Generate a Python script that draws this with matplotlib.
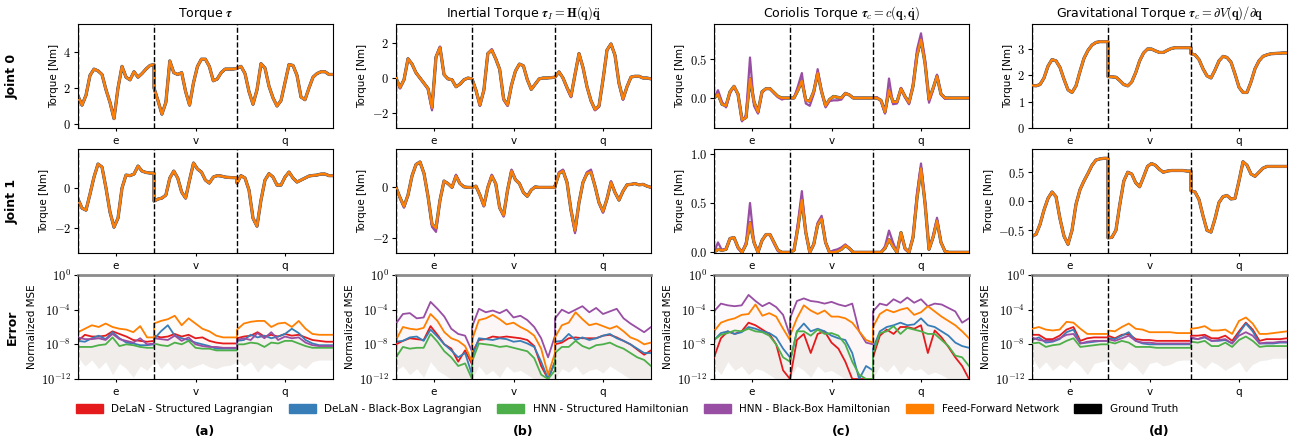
import numpy as np
import matplotlib.pyplot as plt
from matplotlib.patches import Patch
from matplotlib.ticker import NullLocator

plt.rcParams['mathtext.fontset'] = 'cm'
plt.rcParams['font.family'] = ['DejaVu Sans']

segments = ['e', 'v', 'q']
segment_lengths = [76, 83, 96]
torque_counts = [20, 22, 25]
error_counts = [12, 13, 15]

model_names = ['DeLaN - Structured Lagrangian', 'DeLaN - Black-Box Lagrangian',
               'HNN - Structured Hamiltonian', 'HNN - Black-Box Hamiltonian',
               'Feed-Forward Network']
model_colors = ['#e41a1c', '#377eb8', '#4daf4a', '#984ea3', '#ff7f00']

col_titles = [r'Torque $\boldsymbol{\tau}$',
              r'Inertial Torque $\boldsymbol{\tau}_I = \mathbf{H}(\mathbf{q})\ddot{\mathbf{q}}$',
              r'Coriolis Torque $\boldsymbol{\tau}_c = c(\mathbf{q}, \dot{\mathbf{q}})$',
              r'Gravitational Torque $\boldsymbol{\tau}_c = \partial V(\mathbf{q}) / \partial \mathbf{q}$']

# ground truth torques (e | v | q)
torque_j0 = [1.55, 1.05, 1.6, 2.7, 3.05, 2.95, 2.75, 1.9, 1.2, 0.3, 2.0, 3.2, 2.6, 2.45, 2.9, 2.6, 2.8, 3.05, 3.25, 3.3,
             2.0, 1.3, 0.55, 1.2, 3.5, 2.85, 2.75, 2.85, 1.8, 1.05, 2.3, 3.2, 3.6, 3.6, 3.2, 2.4, 2.5, 2.85, 3.05, 3.05, 3.05, 3.08,
             3.1, 3.2, 2.8, 1.8, 1.1, 1.9, 3.35, 3.1, 2.1, 1.45, 1.0, 1.3, 2.3, 3.3, 3.25, 2.7, 1.5, 1.35, 2.0, 2.6, 2.8, 2.9, 2.9, 2.75, 2.75]
torque_j1 = [-0.55, -1.0, -1.1, -0.3, 0.55, 1.2, 1.05, 0.0, -1.2, -1.95, -1.5, 0.0, 0.65, 0.62, 0.7, 1.1, 0.85, 0.78, 0.75, 0.75,
             -0.65, -0.55, -0.5, -0.35, 0.5, 0.85, 0.5, -0.2, -0.5, 0.4, 1.25, 0.95, 0.8, 0.4, 0.25, 0.55, 0.62, 0.6, 0.55, 0.53, 0.52, 0.52,
             0.25, 0.62, 0.5, -0.1, -1.5, -1.9, -0.6, 0.4, 0.72, 0.55, 0.15, 0.15, 0.55, 0.8, 0.5, 0.3, 0.4, 0.5, 0.6, 0.63, 0.65, 0.7, 0.7, 0.62, 0.62]
inertial_j0 = [0.0, -0.55, -0.1, 1.1, 0.8, 0.3, 0.0, -0.3, -0.6, -1.7, 1.2, 1.75, 0.2, -0.05, -0.1, -0.5, -0.35, -0.1, 0.0, -0.05,
               -0.05, -0.7, -1.55, -0.7, 1.4, 1.6, 1.1, 0.5, -1.2, -1.55, -0.4, 0.4, 0.8, 0.7, -0.1, -0.65, -0.35, -0.05, 0.0, 0.0, 0.02, 0.05,
               0.05, 0.35, 0.0, -0.55, -1.05, 0.2, 1.4, 0.6, -0.5, -1.3, -1.8, -1.6, -0.1, 1.6, 1.95, 1.3, -0.3, -1.2, -0.5, 0.05, 0.1, 0.1, 0.0, 0.0, -0.05]
inertial_j1 = [0.0, -0.4, -0.75, -0.3, 0.45, 0.9, 1.0, 0.55, -0.35, -1.45, -1.6, -0.5, 0.25, 0.15, 0.0, 0.45, 0.15, 0.02, 0.0, 0.0,
               0.0, 0.05, -0.3, -0.72, 0.0, 0.45, 0.15, -0.8, -1.1, -0.1, 0.65, 0.3, 0.15, -0.2, -0.35, -0.1, 0.02, 0.0, 0.0, 0.0, 0.0, 0.0,
               0.05, 0.55, 0.65, 0.2, -0.9, -1.7, -0.6, 0.2, 0.55, 0.6, 0.05, -0.6, -0.95, -0.45, 0.2, -0.2, -0.5, -0.15, 0.1, 0.12, 0.15, 0.1, 0.12, 0.05, 0.0]
coriolis_j0 = [0.0, 0.05, -0.08, -0.1, 0.08, 0.15, 0.05, -0.28, -0.25, 0.25, -0.05, -0.18, 0.08, 0.12, 0.12, 0.07, 0.02, 0.0, 0.0, 0.0,
               0.0, 0.0, 0.1, 0.22, -0.03, -0.04, 0.08, 0.32, 0.08, -0.1, -0.02, 0.02, 0.01, 0.0, 0.06, 0.04, 0.0, 0.0, 0.0, 0.0, 0.0, 0.0,
               0.0, 0.0, -0.03, -0.18, 0.1, -0.05, -0.05, 0.12, 0.02, -0.06, 0.15, 0.55, 0.75, 0.45, -0.02, 0.12, 0.28, 0.05, 0.0, 0.0, 0.0, 0.0, 0.0, 0.0, 0.0]
coriolis_j1 = [0.0, 0.03, 0.02, 0.03, 0.14, 0.15, 0.05, 0.0, 0.08, 0.3, 0.1, 0.0, 0.12, 0.18, 0.18, 0.1, 0.02, 0.0, 0.0, 0.0,
               0.0, 0.02, 0.25, 0.53, 0.2, 0.0, 0.08, 0.28, 0.34, 0.1, 0.0, 0.0, 0.01, 0.03, 0.07, 0.04, 0.0, 0.0, 0.0, 0.0, 0.0, 0.0,
               0.0, 0.0, 0.0, 0.04, 0.13, 0.06, 0.0, 0.2, 0.04, 0.0, 0.15, 0.55, 0.85, 0.5, 0.03, 0.15, 0.32, 0.1, 0.01, 0.0, 0.0, 0.0, 0.0, 0.0, 0.0]
grav_j0 = [1.62, 1.6, 1.65, 1.9, 2.35, 2.6, 2.55, 2.3, 1.85, 1.45, 1.35, 1.6, 2.15, 2.65, 2.95, 3.15, 3.25, 3.28, 3.28, 3.28,
           1.95, 1.94, 1.93, 1.8, 1.65, 1.6, 1.75, 2.1, 2.55, 2.85, 3.0, 3.0, 2.93, 2.87, 2.87, 2.95, 3.02, 3.05, 3.05, 3.05, 3.05, 3.05,
           2.82, 2.78, 2.6, 2.25, 1.98, 1.9, 2.2, 2.55, 2.72, 2.68, 2.5, 2.05, 1.55, 1.35, 1.35, 1.75, 2.25, 2.55, 2.72, 2.78, 2.82, 2.83, 2.84, 2.85, 2.85]
grav_j1 = [-0.6, -0.57, -0.4, -0.15, 0.05, 0.16, 0.08, -0.3, -0.6, -0.74, -0.5, -0.05, 0.2, 0.35, 0.48, 0.62, 0.71, 0.73, 0.74, 0.74,
           -0.63, -0.62, -0.5, -0.05, 0.35, 0.5, 0.47, 0.32, 0.25, 0.42, 0.6, 0.65, 0.62, 0.55, 0.5, 0.52, 0.53, 0.53, 0.53, 0.53, 0.52, 0.52,
           0.18, 0.16, 0.03, -0.25, -0.5, -0.53, -0.3, -0.02, 0.08, 0.1, 0.04, 0.05, 0.35, 0.68, 0.62, 0.47, 0.43, 0.5, 0.57, 0.6, 0.6, 0.6, 0.6, 0.6, 0.6]

# HNN black-box predictions where they visibly leave the ground truth
inertial_j0_hnn_bb = [0.0, -0.6, -0.1, 1.1, 0.8, 0.3, 0.0, -0.3, -0.65, -1.85, 1.2, 1.8, 0.2, -0.05, -0.1, -0.5, -0.35, -0.1, 0.0, -0.05,
                      -0.05, -0.75, -1.6, -0.7, 1.4, 1.65, 1.1, 0.5, -1.25, -1.6, -0.4, 0.4, 0.8, 0.7, -0.1, -0.65, -0.35, -0.05, 0.0, 0.0, 0.02, 0.05,
                      0.05, 0.35, 0.0, -0.6, -1.1, 0.2, 1.4, 0.6, -0.5, -1.3, -1.85, -1.65, -0.1, 1.6, 1.95, 1.3, -0.3, -1.25, -0.5, 0.05, 0.1, 0.1, 0.0, 0.0, -0.05]
inertial_j1_hnn_bb = [0.0, -0.4, -0.8, -0.3, 0.45, 0.9, 1.0, 0.55, -0.35, -1.55, -1.75, -0.5, 0.25, 0.15, 0.0, 0.5, 0.15, 0.02, 0.0, 0.0,
                      0.0, 0.05, -0.3, -0.75, 0.0, 0.5, 0.15, -0.8, -1.15, -0.1, 0.7, 0.3, 0.15, -0.2, -0.35, -0.1, 0.02, 0.0, 0.0, 0.0, 0.0, 0.0,
                      0.05, 0.6, 0.7, 0.2, -0.9, -1.8, -0.6, 0.2, 0.6, 0.7, 0.05, -0.6, -1.0, -0.45, 0.25, -0.2, -0.5, -0.15, 0.1, 0.12, 0.15, 0.1, 0.12, 0.05, 0.0]
coriolis_j0_hnn_bb = [0.0, 0.1, -0.05, -0.12, 0.06, 0.15, 0.04, -0.3, -0.22, 0.52, -0.1, -0.2, 0.07, 0.12, 0.12, 0.06, 0.01, -0.02, 0.0, 0.0,
                      0.0, 0.0, 0.15, 0.32, -0.07, -0.1, 0.05, 0.37, 0.08, -0.12, -0.04, -0.03, -0.03, -0.02, 0.06, 0.04, 0.0, 0.0, 0.0, 0.0, 0.0, 0.0,
                      0.0, 0.01, -0.04, -0.2, 0.25, -0.08, -0.07, 0.13, 0.01, -0.08, 0.18, 0.62, 0.83, 0.5, -0.06, 0.1, 0.3, 0.05, -0.01, 0.0, 0.0, 0.0, 0.0, 0.0, 0.0]
coriolis_j1_hnn_bb = [0.0, 0.1, 0.02, 0.04, 0.14, 0.15, 0.04, 0.0, 0.1, 0.5, 0.1, 0.0, 0.12, 0.18, 0.18, 0.09, 0.01, 0.0, 0.0, 0.0,
                      0.0, 0.03, 0.3, 0.62, 0.2, 0.0, 0.08, 0.3, 0.37, 0.1, 0.0, 0.02, 0.03, 0.05, 0.08, 0.04, 0.0, 0.0, 0.0, 0.0, 0.0, 0.0,
                      0.0, 0.0, 0.0, 0.06, 0.22, 0.1, 0.0, 0.19, 0.03, 0.0, 0.16, 0.6, 0.9, 0.52, 0.03, 0.16, 0.35, 0.1, 0.01, 0.0, 0.0, 0.0, 0.0, 0.0, 0.0]

# normalized MSE, log10 (e | v | q); order: DeLaN-S, DeLaN-BB, HNN-S, HNN-BB, FF-NN
err_tau_delan_s = [-7.6, -6.9, -7.1, -7.1, -7.0, -6.5, -6.8, -7.1, -7.5, -7.6, -7.7, -7.6,
                   -7.0, -7.2, -7.1, -6.8, -7.1, -6.9, -7.3, -7.2, -7.6, -7.8, -7.9, -7.9, -7.9,
                   -7.3, -7.1, -7.0, -6.6, -7.1, -6.9, -7.1, -6.8, -7.0, -6.9, -7.2, -7.5, -7.6, -7.7, -7.7]
err_tau_delan_bb = [-7.6, -7.7, -7.3, -7.0, -7.4, -6.6, -7.3, -7.8, -7.9, -8.1, -8.1, -8.0,
                    -7.4, -6.5, -5.8, -7.0, -7.3, -7.5, -7.8, -8.0, -8.2, -8.5, -8.5, -8.5, -8.5,
                    -7.6, -7.5, -6.9, -7.2, -7.0, -7.3, -7.1, -6.8, -6.2, -6.7, -7.5, -7.9, -8.1, -8.1, -8.1]
err_tau_hnn_s = [-8.3, -8.3, -8.3, -8.1, -8.0, -7.2, -8.2, -8.0, -8.1, -8.3, -8.4, -8.4,
                 -7.9, -8.1, -8.2, -7.8, -8.0, -7.6, -8.4, -8.5, -8.5, -8.7, -8.7, -8.7, -8.7,
                 -8.0, -8.0, -7.8, -7.9, -8.3, -7.8, -7.9, -7.6, -7.6, -7.9, -8.2, -8.4, -8.4, -8.4, -8.4]
err_tau_hnn_bb = [-7.2, -7.4, -7.4, -7.3, -7.5, -6.8, -7.4, -7.6, -7.8, -7.3, -8.0, -7.9,
                  -7.3, -7.4, -7.5, -7.0, -7.6, -7.2, -8.0, -8.2, -8.3, -8.3, -8.4, -8.4, -8.4,
                  -7.5, -7.3, -7.5, -6.7, -7.3, -6.6, -7.5, -7.1, -7.3, -7.2, -7.8, -8.1, -8.2, -8.2, -8.2]
err_tau_ffnn = [-6.6, -6.2, -5.8, -6.0, -5.6, -6.0, -6.2, -6.3, -6.6, -5.9, -7.2, -7.2,
                -5.6, -5.3, -5.1, -4.7, -5.8, -5.0, -5.6, -6.2, -6.5, -7.0, -7.2, -7.2, -7.2,
                -6.3, -5.6, -5.4, -5.3, -5.3, -6.0, -5.6, -5.5, -6.0, -5.3, -6.2, -6.8, -6.9, -6.9, -6.9]
err_tau_low = [-9.5, -10.5, -9.8, -10.8, -10.0, -11.5, -10.2, -10.8, -11.8, -10.5, -11.0, -10.0,
               -9.5, -10.8, -10.0, -11.0, -10.3, -10.8, -10.5, -10.2, -10.6, -10.8, -10.5, -10.4, -10.0,
               -9.8, -10.5, -10.0, -11.2, -10.3, -10.8, -10.1, -10.6, -11.0, -10.3, -10.8, -10.0, -9.8, -9.8, -9.8]

err_inert_delan_s = [-8.0, -7.6, -7.3, -7.4, -7.5, -5.9, -6.9, -8.0, -8.5, -10.0, -8.7, -10.3,
                     -9.0, -7.5, -7.4, -7.1, -7.2, -7.1, -7.2, -7.3, -7.5, -8.2, -10.5, -12.0, -10.0,
                     -8.0, -7.8, -7.3, -7.2, -7.3, -7.3, -7.3, -7.0, -6.9, -7.2, -7.6, -8.0, -8.6, -9.2, -8.7]
err_inert_delan_bb = [-7.7, -7.6, -7.2, -7.1, -7.6, -6.3, -7.1, -8.0, -8.7, -9.5, -9.0, -11.5,
                      -9.5, -7.3, -7.4, -7.5, -7.3, -7.4, -7.7, -7.6, -7.9, -8.3, -10.0, -12.0, -10.0,
                      -7.7, -7.6, -6.8, -7.5, -7.2, -7.5, -7.3, -7.0, -6.8, -7.3, -7.6, -8.0, -8.5, -9.0, -9.0]
err_inert_hnn_s = [-9.5, -8.3, -8.5, -8.4, -8.4, -6.8, -7.7, -8.8, -9.5, -10.5, -10.2, -12.0,
                   -10.0, -7.9, -8.0, -8.1, -8.3, -8.2, -8.4, -8.6, -8.8, -9.6, -11.5, -12.0, -11.0,
                   -9.0, -8.3, -8.3, -7.6, -8.2, -8.5, -8.1, -8.0, -7.8, -8.2, -8.5, -9.0, -9.5, -9.8, -10.5]
err_inert_hnn_bb = [-5.6, -4.5, -4.4, -5.0, -4.9, -3.1, -3.9, -4.8, -6.2, -6.8, -7.0, -8.8,
                    -6.0, -3.9, -4.3, -4.1, -4.4, -4.0, -4.9, -4.7, -5.2, -6.0, -7.3, -9.5, -7.0,
                    -5.0, -4.0, -4.4, -4.0, -3.6, -4.3, -3.8, -4.5, -4.2, -3.9, -5.0, -5.6, -6.1, -6.6, -6.0]
err_inert_ffnn = [-7.5, -6.0, -6.2, -6.3, -6.1, -4.5, -5.3, -6.6, -7.3, -7.6, -8.2, -10.0,
                  -7.5, -5.2, -5.0, -4.6, -5.1, -5.7, -5.5, -6.0, -6.4, -7.0, -8.5, -11.5, -9.0,
                  -7.2, -5.8, -5.5, -4.3, -5.1, -5.8, -5.6, -5.9, -6.2, -5.9, -6.5, -7.2, -7.5, -8.0, -7.8]
err_inert_low = [-11.0, -10.5, -11.5, -10.8, -11.8, -10.0, -11.0, -11.5, -12.0, -12.0, -12.0, -12.0,
                 -12.0, -10.5, -11.5, -11.0, -11.8, -10.5, -11.2, -11.0, -11.5, -12.0, -12.0, -12.0, -12.0,
                 -12.0, -10.8, -11.2, -10.5, -11.5, -11.0, -10.8, -11.3, -10.5, -11.0, -11.5, -12.0, -12.0, -12.0, -12.0]

err_cor_delan_s = [-9.5, -7.3, -6.5, -6.8, -6.5, -5.5, -5.8, -6.3, -6.8, -8.0, -11.0, -12.0,
                   -12.0, -7.5, -6.8, -9.0, -6.8, -6.5, -7.8, -8.5, -10.0, -12.0, -12.0, -12.0, -12.0,
                   -9.5, -7.0, -6.3, -6.8, -6.0, -6.0, -6.2, -5.8, -9.0, -6.4, -7.2, -8.3, -9.5, -10.5, -12.0]
err_cor_delan_bb = [-7.5, -6.7, -6.5, -6.8, -6.6, -6.0, -6.2, -6.5, -6.7, -7.2, -8.5, -9.5,
                    -10.0, -6.5, -5.6, -6.5, -6.2, -6.5, -7.0, -7.3, -7.5, -9.0, -12.0, -10.5, -11.0,
                    -8.5, -6.5, -6.0, -5.8, -5.5, -5.8, -5.7, -5.0, -5.8, -6.0, -6.5, -7.0, -7.8, -8.2, -8.4]
err_cor_hnn_s = [-7.5, -6.9, -6.7, -6.4, -6.5, -6.2, -6.5, -6.6, -7.0, -8.0, -9.5, -10.0,
                 -10.0, -6.5, -6.5, -7.0, -6.3, -6.8, -6.7, -7.0, -8.0, -10.0, -11.5, -12.0, -12.0,
                 -9.0, -6.7, -6.5, -5.9, -6.8, -6.1, -6.3, -6.5, -6.8, -6.8, -7.5, -8.2, -9.3, -9.5, -10.5]
err_cor_hnn_bb = [-4.2, -3.3, -3.5, -3.6, -3.5, -2.3, -3.0, -3.6, -3.2, -3.7, -4.6, -7.0,
                  -5.0, -3.0, -2.7, -3.0, -3.1, -3.3, -3.1, -3.4, -3.6, -3.3, -6.5, -7.8, -8.0,
                  -4.2, -3.3, -3.5, -2.8, -3.2, -2.6, -3.2, -2.8, -3.6, -3.3, -3.4, -3.8, -4.2, -5.5, -5.0]
err_cor_ffnn = [-6.5, -5.5, -5.2, -5.0, -4.6, -4.5, -3.4, -4.7, -4.4, -4.8, -6.2, -7.5,
                -7.0, -5.0, -3.5, -4.1, -4.5, -4.1, -4.8, -4.8, -5.0, -5.5, -6.5, -7.5, -7.8,
                -6.0, -4.5, -4.0, -4.3, -4.0, -3.8, -4.6, -4.3, -3.6, -4.2, -4.8, -5.3, -5.8, -6.5, -7.3]
err_cor_low = [-10.5, -11.5, -10.0, -11.0, -10.5, -11.5, -10.8, -11.0, -11.5, -12.0, -12.0, -12.0,
               -12.0, -10.5, -11.0, -11.8, -10.5, -11.2, -11.0, -11.5, -12.0, -12.0, -12.0, -12.0, -12.0,
               -12.0, -10.5, -11.2, -10.3, -11.5, -10.5, -11.0, -10.8, -11.5, -11.2, -11.5, -12.0, -12.0, -12.0, -12.0]

err_grav_delan_s = [-6.9, -6.9, -7.4, -7.4, -7.0, -6.3, -6.0, -7.6, -7.3, -7.2, -7.2, -7.2,
                    -7.0, -7.3, -6.9, -6.8, -7.4, -7.5, -7.5, -7.6, -7.6, -7.6, -7.6, -7.6, -7.6,
                    -7.0, -7.0, -6.9, -7.3, -7.3, -7.0, -7.6, -6.5, -5.5, -6.3, -7.6, -7.4, -7.4, -7.4, -7.3]
err_grav_delan_bb = [-7.5, -7.2, -7.8, -7.7, -7.4, -6.6, -6.3, -7.9, -7.8, -7.7, -7.6, -7.6,
                     -7.3, -7.4, -7.0, -6.6, -7.6, -7.9, -8.0, -8.0, -8.0, -8.0, -8.0, -8.0, -8.0,
                     -7.3, -7.4, -7.2, -7.6, -7.6, -7.5, -7.9, -6.7, -5.6, -6.5, -7.9, -7.9, -7.9, -7.8, -7.8]
err_grav_hnn_s = [-7.9, -7.8, -8.3, -8.1, -8.0, -7.6, -7.3, -8.3, -8.2, -8.1, -8.0, -8.0,
                  -7.7, -7.9, -7.6, -7.8, -8.3, -8.3, -8.3, -8.4, -8.4, -8.4, -8.4, -8.4, -8.4,
                  -7.7, -7.8, -7.6, -8.2, -8.2, -7.8, -8.3, -7.5, -7.1, -7.6, -8.3, -8.2, -8.2, -8.2, -8.2]
err_grav_hnn_bb = [-7.2, -7.5, -7.6, -7.6, -7.3, -6.9, -6.8, -7.9, -7.7, -7.6, -7.6, -7.6,
                   -7.4, -7.6, -7.3, -7.0, -7.6, -7.8, -7.8, -7.9, -7.9, -7.9, -7.9, -7.9, -7.9,
                   -7.2, -7.4, -7.1, -7.6, -7.5, -7.4, -7.9, -7.0, -6.6, -7.0, -7.9, -7.8, -7.8, -7.7, -7.7]
err_grav_ffnn = [-6.2, -6.0, -6.3, -6.4, -6.3, -5.4, -5.5, -6.2, -6.8, -6.8, -6.8, -6.8,
                 -6.4, -6.5, -6.0, -5.6, -6.2, -6.3, -6.6, -6.6, -6.6, -6.6, -6.7, -6.7, -6.7,
                 -6.2, -6.1, -5.9, -6.4, -6.4, -6.3, -6.8, -5.3, -4.9, -5.6, -6.8, -6.8, -6.7, -6.6, -6.5]
err_grav_low = [-9.5, -10.8, -10.0, -11.0, -10.3, -10.8, -9.8, -10.5, -11.5, -10.2, -10.0, -9.8,
                -9.5, -10.5, -11.0, -10.0, -10.6, -11.5, -10.2, -10.0, -10.5, -10.3, -9.9, -9.8, -9.8,
                -9.5, -10.2, -10.8, -10.0, -10.4, -11.0, -10.5, -10.0, -11.2, -10.3, -9.9, -9.8, -9.6, -9.6, -9.6]


def time_axis(counts):
    parts, start = [], 0
    for n, length in zip(counts, segment_lengths):
        parts.append(np.linspace(start, start + length, n))
        start += length
    return np.concatenate(parts)


t_torque = time_axis(torque_counts)
t_error = time_axis(error_counts)
boundaries = np.cumsum([0] + segment_lengths)
centers = boundaries[:-1] + np.array(segment_lengths) / 2

W, H = 1298, 446
fig = plt.figure(figsize=(W / 100, H / 100), dpi=100)
col_left = [78, 396, 714, 1032]
row_top = [24, 149, 275]
ax_w, ax_h = 255, 104


def make_ax(r, c):
    return fig.add_axes([col_left[c] / W, 1 - (row_top[r] + ax_h) / H, ax_w / W, ax_h / H])


def style_ax(ax):
    ax.set_xlim(0, boundaries[-1])
    for b in boundaries[:-1]:
        ax.axvline(b, color='black', ls='--', lw=1.0, zorder=6)
    ax.set_xticks(centers)
    ax.set_xticklabels(segments, fontsize=7.5)
    ax.tick_params(axis='x', length=2, pad=4)
    ax.tick_params(axis='y', length=3, pad=2, labelsize=9)


joint_data = [
    (torque_j0, torque_j1, None, None),
    (inertial_j0, inertial_j1, inertial_j0_hnn_bb, inertial_j1_hnn_bb),
    (coriolis_j0, coriolis_j1, coriolis_j0_hnn_bb, coriolis_j1_hnn_bb),
    (grav_j0, grav_j1, None, None),
]
ylims = [[(-0.22, 5.55), (-3.24, 1.95)],
         [(-2.86, 3.09), (-2.58, 1.51)],
         [(-0.385, 0.95), (-0.007, 1.047)],
         [(0, 3.95), (-0.89, 0.9)]]
yticks = [[[0, 2, 4], [-2, 0]],
          [[-2, 0, 2], [-2, 0]],
          [[0.0, 0.5], [0.0, 0.5, 1.0]],
          [[0, 1, 2, 3], [-0.5, 0.0, 0.5]]]
ytick_labels = [[['$0$', '$2$', '$4$'], ['$-2$', '$0$']],
                [['$-2$', '$0$', '$2$'], ['$-2$', '$0$']],
                [['$0.0$', '$0.5$'], ['$0.0$', '$0.5$', '$1.0$']],
                [['$0$', '$1$', '$2$', '$3$'], ['$-0.5$', '$0.0$', '$0.5$']]]
error_data = [
    [err_tau_delan_s, err_tau_delan_bb, err_tau_hnn_s, err_tau_hnn_bb, err_tau_ffnn, err_tau_low],
    [err_inert_delan_s, err_inert_delan_bb, err_inert_hnn_s, err_inert_hnn_bb, err_inert_ffnn, err_inert_low],
    [err_cor_delan_s, err_cor_delan_bb, err_cor_hnn_s, err_cor_hnn_bb, err_cor_ffnn, err_cor_low],
    [err_grav_delan_s, err_grav_delan_bb, err_grav_hnn_s, err_grav_hnn_bb, err_grav_ffnn, err_grav_low],
]

for c in range(4):
    for r in range(2):
        ax = make_ax(r, c)
        style_ax(ax)
        truth = np.array(joint_data[c][r])
        hnn_bb = joint_data[c][r + 2]
        ax.plot(t_torque, truth, color='#444444', lw=2.3, zorder=2)
        for k, color in enumerate(model_colors):
            y = truth
            if k == 3 and hnn_bb is not None:
                y = np.array(hnn_bb)
            ax.plot(t_torque, y, color=color, lw=1.6, zorder=3 + k * 0.1,
                    solid_joinstyle='round')
        ax.set_ylim(*ylims[c][r])
        ax.set_yticks(yticks[c][r])
        ax.set_yticklabels(ytick_labels[c][r])
        ax.set_ylabel('Torque [Nm]', fontsize=7.5, labelpad=3)
        if r == 0:
            ax.set_title(col_titles[c], fontsize=9, pad=5)

    ax = make_ax(2, c)
    style_ax(ax)
    ax.set_yscale('log')
    series = error_data[c]
    low = 10.0 ** np.array(series[5])
    for k, color in enumerate(model_colors):
        vals = 10.0 ** np.array(series[k])
        ax.fill_between(t_error, low, vals, color=color, alpha=0.022, lw=0, zorder=1)
    for k, color in enumerate(model_colors):
        ax.plot(t_error, 10.0 ** np.array(series[k]), color=color, lw=1.3, zorder=3 + k * 0.1)
    ax.set_ylim(1e-12, 1)
    ax.set_yticks([1e-12, 1e-8, 1e-4, 1])
    ax.set_yticklabels([r'$10^{-12}$', r'$10^{-8}$', r'$10^{-4}$', r'$10^{0}$'])
    ax.yaxis.set_minor_locator(NullLocator())
    ax.spines['top'].set_color('#8c8c8c')
    ax.spines['top'].set_linewidth(2.0)
    ax.set_ylabel('Normalized MSE', fontsize=7.5, labelpad=3)
    fig.text((col_left[c] + ax_w / 2) / W, 1 - 432 / H, '(%s)' % 'abcd'[c],
             ha='center', va='center', fontsize=9, fontweight='bold')

for label, yc in [('Joint 0', 76), ('Joint 1', 201), ('Error', 327)]:
    fig.text(12 / W, 1 - yc / H, label, rotation=90, ha='center', va='center',
             fontsize=9, fontweight='bold')

handles = [Patch(color=c, label=n) for n, c in zip(model_names, model_colors)]
handles.append(Patch(color='black', label='Ground Truth'))
fig.legend(handles=handles, loc='center', bbox_to_anchor=(627 / W, 1 - 409 / H), ncol=6,
           frameon=False, fontsize=7.5, handlelength=2.6, handleheight=0.9,
           columnspacing=1.5, handletextpad=0.8)

fig.savefig('out.png', dpi=100)
